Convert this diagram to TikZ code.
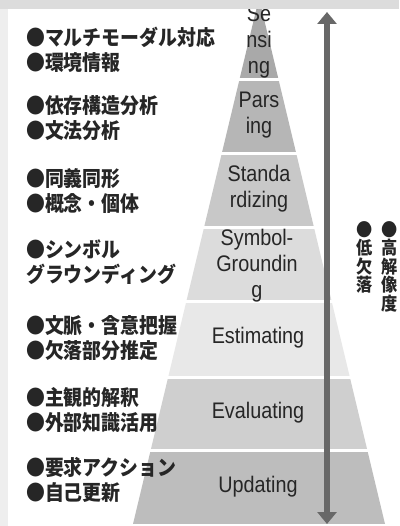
\documentclass[tikz,border=0pt]{standalone}
\usepackage{fontspec}
\setmainfont{Liberation Sans}
\newfontfamily\jpfont[FakeStretch=0.9]{Noto Sans CJK JP}
\newfontfamily\tierfont[FakeStretch=0.88]{Liberation Sans}
\usetikzlibrary{arrows.meta}

\definecolor{tierA}{HTML}{A9A9A9}
\definecolor{tierB}{HTML}{B6B6B6}
\definecolor{tierC}{HTML}{C8C8C8}
\definecolor{tierD}{HTML}{DCDCDC}
\definecolor{tierE}{HTML}{E8E8E8}
\definecolor{tierF}{HTML}{CFCFCF}
\definecolor{tierG}{HTML}{BDBDBD}
\definecolor{arrowgray}{HTML}{686868}
\definecolor{framegray}{HTML}{DCDCDC}
\definecolor{sidegray}{HTML}{EEEEEE}

\begin{document}
\begin{tikzpicture}[x=1pt,y=-1pt]
\tikzstyle{every node}+=[inner sep=0pt]
\tikzstyle{jp}=[font=\jpfont\bfseries\fontsize{21}{25}\selectfont, anchor=west, align=left, text=black!85]
\tikzstyle{jpv}=[font=\jpfont\bfseries\fontsize{18}{18.5}\selectfont, anchor=north, align=center, text=black!85]
\tikzstyle{tier}=[font=\tierfont\fontsize{22.5}{26}\selectfont, align=center, text=black!85]
\tikzstyle{scalearrow}=[arrowgray, line width=6pt, {Triangle[width=19pt,length=12pt]}-{Triangle[width=19pt,length=12pt]}]
\useasboundingbox (0,0) rectangle (399,526);
\fill [white] (0,0) rectangle (399,526);
% pyramid
\begin{scope}
\clip (259,-2) -- (133,524) -- (385,524) -- cycle;
\fill [tierA] (0,-2) rectangle (399,78);
\fill [tierB] (0,81) rectangle (399,152);
\fill [tierC] (0,155) rectangle (399,226);
\fill [tierD] (0,229) rectangle (399,300);
\fill [tierE] (0,303) rectangle (399,376);
\fill [tierF] (0,379) rectangle (399,449);
\fill [tierG] (0,452) rectangle (399,524);
\end{scope}
\node [tier] (sensing) at (259,42) {Se\\nsi\\ng};
\node [tier] (parsing) at (259,115) {Pars\\ing};
\node [tier] (standard) at (259,189) {Standa\\rdizing};
\node [tier] (symbol) at (257,266) {Symbol-\\Groundin\\g};
\node [tier] (estimating) at (258,338) {Estimating};
\node [tier] (evaluating) at (258,413) {Evaluating};
\node [tier] (updating) at (258,487) {Updating};
% left column
\node [jp] (sensingtxt) at (26,50) {●マルチモーダル対応\\●環境情報};
\node [jp] (parsingtxt) at (26,118) {●依存構造分析\\●文法分析};
\node [jp] (standardtxt) at (26,191) {●同義同形\\●概念・個体};
\node [jp] (symboltxt) at (26,262) {●シンボル\\グラウンディング};
\node [jp] (estimatingtxt) at (26,338) {●文脈・含意把握\\●欠落部分推定};
\node [jp] (evaluatingtxt) at (26,410) {●主観的解釈\\●外部知識活用};
\node [jp] (updatingtxt) at (26,480) {●要求アクション\\●自己更新};
% scale arrow
\coordinate (up) at (327,12);
\coordinate (down) at (327,524);
\draw [scalearrow] (down) -- (up);
\node [jpv] (resolution) at (390,221) {●\\高\\解\\像\\度};
\node [jpv] (loss) at (365,221) {●\\低\\欠\\落};
% frame
\fill [framegray] (0,0) rectangle (399,9);
\fill [sidegray] (0,9) rectangle (8,526);
\end{tikzpicture}
\end{document}
